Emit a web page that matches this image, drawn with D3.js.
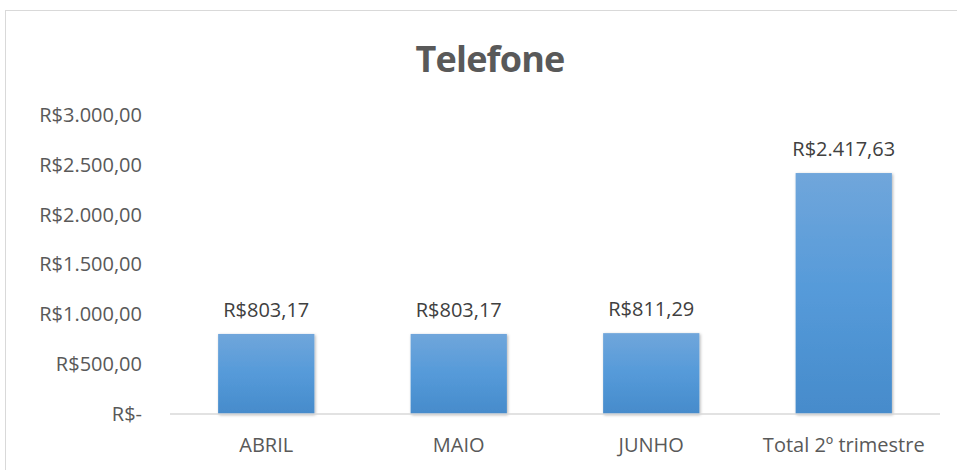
<!DOCTYPE html>
<html>
<head>
<meta charset="utf-8">
<script src="https://cdn.jsdelivr.net/npm/d3@7"></script>
<style>
  body { margin: 0; background: #fff; }
  svg { display: block; }
  svg text { font-family: "Open Sans", "Noto Sans", sans-serif; }
</style>
</head>
<body>
<div id="chart"></div>
<script>
// chart data
var categories = ["ABRIL", "MAIO", "JUNHO", "Total 2º trimestre"];
var values = [803.17, 803.17, 811.29, 2417.63];
var yTicks = [0, 500, 1000, 1500, 2000, 2500, 3000];

var W = 957, H = 470;
var margin = {top: 115, right: 17, bottom: 56, left: 170};

var svg = d3.select("#chart").append("svg")
  .attr("width", W)
  .attr("height", H);

// outer chart border
svg.append("rect")
  .attr("x", 5.5).attr("y", 10.5)
  .attr("width", W + 20).attr("height", H + 20)
  .attr("fill", "none")
  .attr("stroke", "#d9d9d9");

var defs = svg.append("defs");
var grad = defs.append("linearGradient")
  .attr("id", "barGrad")
  .attr("x1", 0).attr("y1", 0).attr("x2", 0).attr("y2", 1);
grad.append("stop").attr("offset", "0%").attr("stop-color", "#70a6db");
grad.append("stop").attr("offset", "50%").attr("stop-color", "#559ad9");
grad.append("stop").attr("offset", "100%").attr("stop-color", "#468bcb");

var shadow = defs.append("filter").attr("id", "shadow")
  .attr("x", "-10%").attr("y", "-10%").attr("width", "130%").attr("height", "130%");
shadow.append("feDropShadow")
  .attr("dx", 1).attr("dy", 1).attr("stdDeviation", 1.5)
  .attr("flood-color", "#000").attr("flood-opacity", 0.3);

var width = W - margin.left - margin.right,
    height = H - margin.top - margin.bottom;

var g = svg.append("g")
  .attr("transform", "translate(" + margin.left + "," + margin.top + ")");

var x = d3.scaleBand()
  .domain(categories)
  .range([0, width])
  .paddingInner(0.5)
  .paddingOuter(0.25);

var y = d3.scaleLinear()
  .domain([0, 3000])
  .range([height, 0]);

function brl(v) {
  if (v === 0) return "R$-";
  var s = d3.format(",.2f")(v);
  return "R$" + s.replace(/,/g, "#").replace(".", ",").replace(/#/g, ".");
}

// y axis labels
var yAxis = g.append("g")
  .call(d3.axisLeft(y).tickValues(yTicks).tickFormat(brl).tickSize(0).tickPadding(28));
yAxis.attr("font-family", null);
yAxis.select(".domain").remove();
yAxis.selectAll("text")
  .attr("fill", "#595959")
  .style("font-size", "20px");

// bars
var data = categories.map(function(c, i) { return {cat: c, value: values[i]}; });

g.selectAll("rect.bar")
  .data(data)
  .enter()
  .append("rect")
    .attr("class", "bar")
    .attr("x", function(d) { return x(d.cat); })
    .attr("y", function(d) { return y(d.value); })
    .attr("width", x.bandwidth())
    .attr("height", function(d) { return height - y(d.value); })
    .attr("fill", "url(#barGrad)")
    .attr("filter", "url(#shadow)");

// baseline
g.append("line")
  .attr("x1", 0).attr("x2", width)
  .attr("y1", y(0)).attr("y2", y(0))
  .attr("stroke", "#d9d9d9")
  .attr("stroke-width", 1.5);

// value labels
g.selectAll("text.val")
  .data(data)
  .enter()
  .append("text")
    .attr("class", "val")
    .attr("x", function(d) { return x(d.cat) + x.bandwidth() / 2; })
    .attr("y", function(d) { return y(d.value) - 17; })
    .attr("text-anchor", "middle")
    .attr("fill", "#404040")
    .style("font-size", "20px")
    .text(function(d) { return brl(d.value); });

// category labels
var xAxis = g.append("g")
  .attr("transform", "translate(0," + height + ")")
  .call(d3.axisBottom(x).tickSize(0).tickPadding(24));
xAxis.attr("font-family", null);
xAxis.select(".domain").remove();
xAxis.selectAll("text")
  .attr("fill", "#595959")
  .style("font-size", "20px");

// title
svg.append("text")
  .attr("x", 490)
  .attr("y", 72)
  .attr("text-anchor", "middle")
  .attr("fill", "#595959")
  .style("font-size", "36px")
  .style("font-weight", "bold")
  .style("letter-spacing", "-0.8px")
  .text("Telefone");
</script>
</body>
</html>
